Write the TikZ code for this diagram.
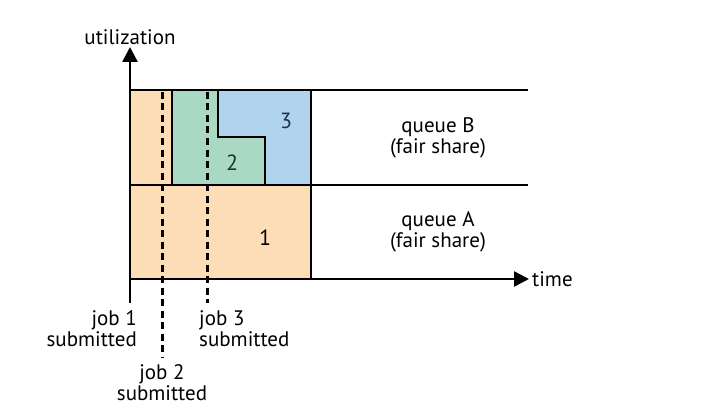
\documentclass[tikz,border=0pt]{standalone}
\usepackage{fontspec}
\setmainfont{PT Sans}
\usetikzlibrary{arrows.meta}
\definecolor{qorange}{HTML}{FCDDB5}
\definecolor{qgreen}{HTML}{A9D9C3}
\definecolor{qblue}{HTML}{B0D3EE}
\definecolor{numblue}{HTML}{1F3350}
\definecolor{numgreen}{HTML}{163A2A}
\tikzset{
  edge/.style={line width=2.6pt},
  joblabel/.style={font=\fontsize{21}{21}\selectfont, align=center, inner sep=0pt},
  numlabel/.style={font=\fontsize{22}{21}\selectfont, inner sep=0pt},
  jobline/.style={line width=3pt, dash pattern=on 7pt off 4.5pt},
}
\begin{document}
\begin{tikzpicture}[x=1pt,y=-1pt]
\useasboundingbox (0,0) rectangle (709,417);
% fills
\fill[qorange] (130,90) rectangle (172,185);
\fill[qorange] (130,185) rectangle (311,279);
\fill[qgreen] (172,90) -- (218,90) -- (218,137) -- (265,137) -- (265,185) -- (172,185) -- cycle;
\fill[qblue] (218,90) -- (311,90) -- (311,185) -- (265,185) -- (265,137) -- (218,137) -- cycle;
% coordinates
\coordinate (ybot) at (130,303);
\coordinate (ytop) at (130,47);
\coordinate (xl) at (130,279);
\coordinate (xr) at (529,279);
\coordinate (tl) at (130,90);
\coordinate (tr) at (528,90);
\coordinate (ml) at (130,185);
\coordinate (mr) at (528,185);
% block borders
\draw[edge] (172,90) -- (172,185);
\draw[edge] (218,90) -- (218,137) -- (265,137) -- (265,185);
\draw[edge] (311,90) -- (311,279);
% horizontal lines
\draw[edge] (tl) -- (tr);
\draw[edge] (ml) -- (mr);
% job lines
\coordinate (j2top) at (162,92);
\coordinate (j2bot) at (162,358);
\coordinate (j3top) at (207,92);
\coordinate (j3bot) at (207,303);
\draw[jobline] (j2top) -- (j2bot);
\draw[jobline] (j3top) -- (j3bot);
% axes
\draw[edge, -{Triangle[width=15pt,length=15pt]}] (ybot) -- (ytop);
\draw[edge, -{Triangle[width=15pt,length=15pt]}] (xl) -- (xr);
% labels
\node[joblabel, anchor=south] (util) at (130,45) {utilization};
\node[joblabel, anchor=west] (time) at (532,279) {time};
\node[joblabel] (qb) at (438,138) {queue B\\(fair share)};
\node[joblabel] (qa) at (438,232) {queue A\\(fair share)};
\node[joblabel, anchor=north east, align=right] (j1) at (137,310) {job 1\\submitted};
\node[joblabel, anchor=north west, align=left] (j3) at (199,310) {job 3\\submitted};
\node[joblabel, anchor=north] (j2) at (162,364) {job 2\\submitted};
\node[numlabel, text=numblue] (n3) at (286,121) {3};
\node[numlabel, text=numgreen] (n2) at (232,163) {2};
\node[numlabel, text=black] (n1) at (265,238) {1};
\end{tikzpicture}
\end{document}
